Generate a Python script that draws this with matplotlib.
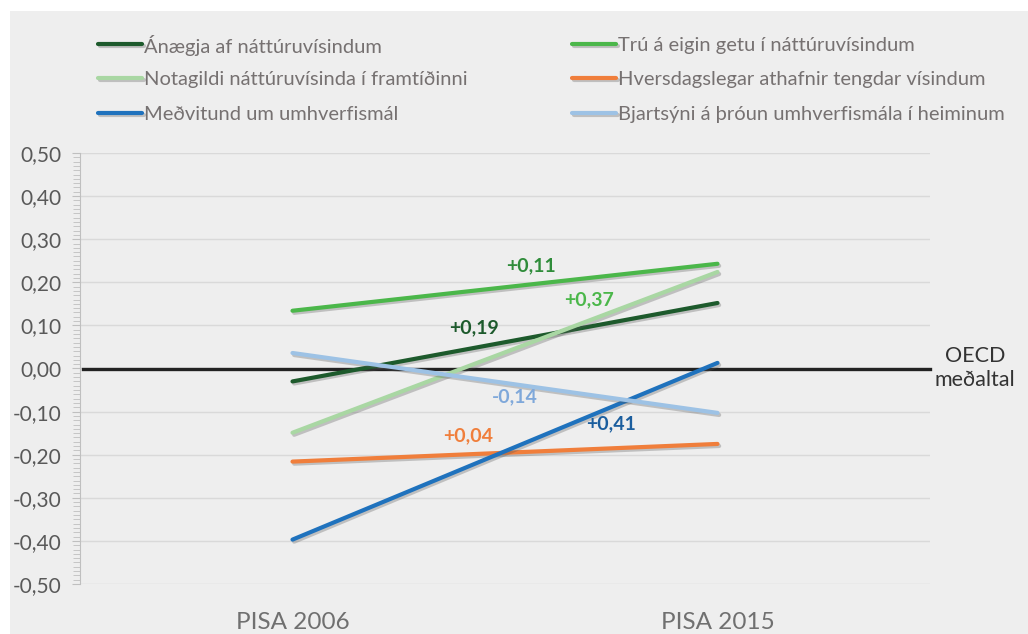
import matplotlib
matplotlib.use("Agg")
import matplotlib.pyplot as plt
import matplotlib.patheffects as pe
from matplotlib.patches import Rectangle
from matplotlib.lines import Line2D
from matplotlib.ticker import MultipleLocator, FuncFormatter

# Data
years = ["PISA 2006", "PISA 2015"]
series_names = [
    "Ánægja af náttúruvísindum",
    "Trú á eigin getu í náttúruvísindum",
    "Notagildi náttúruvísinda í framtíðinni",
    "Hversdagslegar athafnir tengdar vísindum",
    "Meðvitund um umhverfismál",
    "Bjartsýni á þróun umhverfismála í heiminum",
]
anaegja = [-0.03, 0.152]
tru = [0.134, 0.243]
notagildi = [-0.149, 0.224]
hversdags = [-0.216, -0.175]
medvitund = [-0.397, 0.013]
bjartsyni = [0.036, -0.103]
change_labels = ["+0,19", "+0,11", "+0,37", "+0,04", "+0,41", "-0,14"]
label_x = [0.427, 0.561, 0.698, 0.413, 0.749, 0.524]
label_y = [0.094, 0.238, 0.159, -0.156, -0.128, -0.066]

colors = ["#1d5a2c", "#4bb74a", "#a9d7a3", "#f07e3b", "#1f72bd", "#9dc2e5"]
label_colors = ["#1d5a2c", "#2f8c3a", "#4bb74a", "#f07e3b", "#1b5e9e", "#7fa8da"]

plt.rcParams["font.family"] = ["Lato", "DejaVu Sans"]

bg = "#eeeeee"
W, H = 1028, 634
fig = plt.figure(figsize=(W / 100, H / 100), dpi=100)
fig.patch.set_facecolor("white")
fig.patches.append(Rectangle((10 / W, 0), 1, 1 - 11 / H, transform=fig.transFigure,
                             facecolor=bg, edgecolor="none", zorder=-10))

ax = fig.add_axes([80 / W, 1 - 584 / H, 850 / W, 431 / H])
ax.set_facecolor(bg)

shadow = [pe.SimpleLineShadow(offset=(1.2, -1.5), shadow_color="#555555", alpha=0.3), pe.Normal()]

all_series = [anaegja, tru, notagildi, hversdags, medvitund, bjartsyni]
xs = [0, 1]
for name, vals, c in zip(series_names, all_series, colors):
    ax.plot(xs, vals, color=c, lw=3.0, solid_capstyle="round", label=name,
            path_effects=shadow, zorder=3)

for txt, x, y, c in zip(change_labels, label_x, label_y, label_colors):
    ax.text(x, y, txt, color=c, fontsize=14, fontweight="bold", ha="center", va="center", zorder=5)

# OECD average line
ax.axhline(0, xmin=0.004, xmax=1.0, color="#222222", lw=2.4, zorder=2, clip_on=False)
ax.text(1.053, 0.0, "OECD\nmeðaltal", transform=ax.get_yaxis_transform(), ha="center",
        va="center", fontsize=15.5, color="#333333", linespacing=1.25)

ax.set_xlim(-0.5, 1.5)
ax.set_ylim(-0.5, 0.5)
ax.set_xticks(xs)
ax.set_xticklabels(years)
ax.yaxis.set_major_locator(MultipleLocator(0.1))
ax.yaxis.set_minor_locator(MultipleLocator(0.01))
ax.yaxis.set_major_formatter(FuncFormatter(lambda v, p: f"{v:.2f}".replace(".", ",").replace("-0,00", "0,00")))
ax.grid(axis="y", color="#d9d9d9", lw=1, zorder=0)
ax.set_axisbelow(True)

for s in ["top", "right", "bottom"]:
    ax.spines[s].set_visible(False)
ax.spines["left"].set_color("#bfbfbf")
ax.tick_params(axis="y", which="major", length=6, color="#bfbfbf", labelsize=15, labelcolor="#595959", pad=7)
ax.tick_params(axis="y", which="minor", length=5, color="#bfbfbf")
ax.tick_params(axis="x", length=0, labelsize=17.5, labelcolor="#707070", pad=20)

# Legend drawn by hand: two columns, three rows
order = [[0, 2, 4], [1, 3, 5]]
col_x = [98, 572]
row_y = [44, 78, 113]
for col, idxs in enumerate(order):
    for row, i in enumerate(idxs):
        y = 1 - row_y[row] / H
        x0 = col_x[col] / W
        fig.add_artist(Line2D([x0, x0 + 44 / W], [y, y], transform=fig.transFigure,
                              color=colors[i], lw=3.0, solid_capstyle="round", path_effects=shadow))
        fig.text(x0 + 46 / W, y, series_names[i], color="#767171", fontsize=14.5,
                 ha="left", va="center_baseline")

fig.savefig("out.png", dpi=100, facecolor=fig.get_facecolor())
